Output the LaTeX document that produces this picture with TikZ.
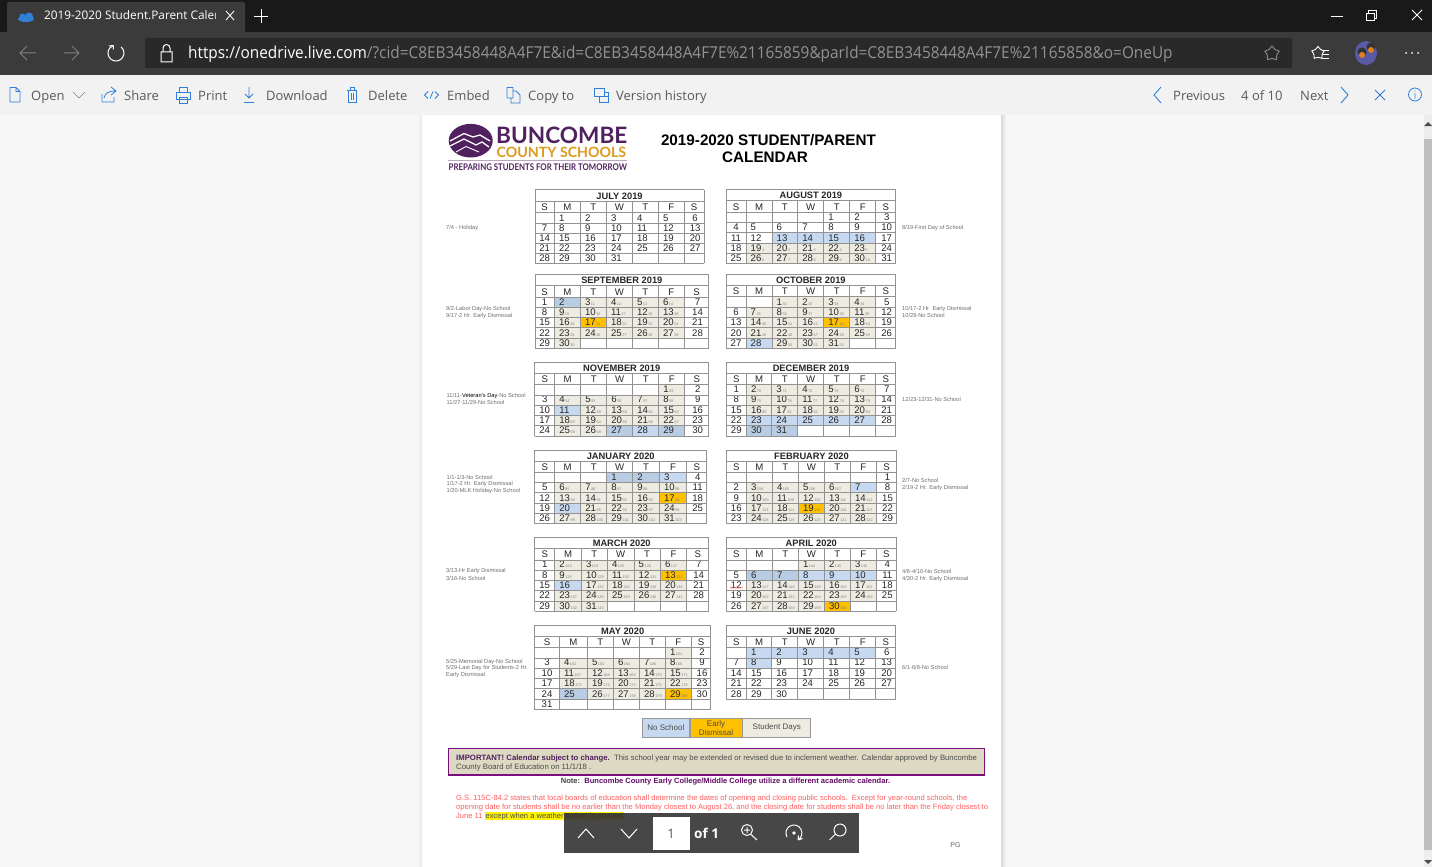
\documentclass[tikz,border=0pt]{standalone}
\usepackage{fontspec}
\usepackage{xcolor}
\usepackage{graphicx}
\setmainfont{Liberation Sans}
\newfontfamily\uifont{Open Sans}
\newfontfamily\logofont{Lato}
\usetikzlibrary{arrows,positioning,shapes,calc}
\definecolor{calw}{HTML}{FFFFFF}
\definecolor{cals}{HTML}{EEECE1}
\definecolor{cale}{HTML}{FFC000}
\definecolor{caln}{HTML}{C6D9F1}
\definecolor{cald}{HTML}{B8CCE4}
\definecolor{calgrid}{HTML}{929292}
\definecolor{uiblue}{HTML}{2F7FD6}
\definecolor{uitext}{HTML}{5A5A5A}
\definecolor{notegray}{HTML}{6E6E6E}
\definecolor{logopurple}{HTML}{50215E}
\definecolor{logoorange}{HTML}{DC9A1E}
\definecolor{boxpurple}{HTML}{7A0F7E}
\definecolor{boxfill}{HTML}{DDD9C3}
\definecolor{lawred}{HTML}{FF5F5F}
\newcommand{\fs}[1]{\fontsize{#1}{#1}\selectfont}
\newcounter{schoolday}

\newcommand{\calmonth}[6]{%
	\def\colx{{#3}}\def\rowy{{#4}}
	\pgfmathtruncatemacro{\lastrow}{dim(\rowy)-1}
	\pgfmathsetmacro{\ytop}{\rowy[0]}
	\pgfmathsetmacro{\yhead}{\rowy[1]}
	\pgfmathsetmacro{\ysub}{\rowy[2]}
	\pgfmathsetmacro{\ybot}{\rowy[\lastrow]}
	\pgfmathsetmacro{\xleft}{\colx[0]}
	\pgfmathsetmacro{\xright}{\colx[7]}
	\foreach \kind [count=\dayidx from 1] in {#6} {
		\pgfmathtruncatemacro{\slot}{\dayidx-1+#5}
		\pgfmathtruncatemacro{\cc}{mod(\slot,7)}
		\pgfmathtruncatemacro{\rr}{int(\slot/7)}
		\pgfmathtruncatemacro{\ccb}{\cc+1}
		\pgfmathtruncatemacro{\rra}{2+\rr}
		\pgfmathtruncatemacro{\rrb}{3+\rr}
		\pgfmathsetmacro{\xa}{\colx[\cc]}
		\pgfmathsetmacro{\xb}{\colx[\ccb]}
		\pgfmathsetmacro{\ya}{\rowy[\rra]}
		\pgfmathsetmacro{\yb}{\rowy[\rrb]}
		\fill[cal\kind] (\xa,\ya) rectangle (\xb,\yb);
		\def\daytag{}
		\if\kind s\stepcounter{schoolday}\edef\daytag{\arabic{schoolday}}\fi
		\if\kind e\stepcounter{schoolday}\edef\daytag{\arabic{schoolday}}\fi
		\ifnum\cc=0
			\node[daynum,anchor=base] (#1-\dayidx) at ({(\xa+\xb)/2},\yb-2.1) {\dayidx};
		\else\ifnum\cc=6
			\node[daynum,anchor=base] (#1-\dayidx) at ({(\xa+\xb)/2+1},\yb-2.1) {\dayidx};
		\else
			\node[daynum,anchor=base west] (#1-\dayidx) at (\xa+4.5,\yb-2.1) {\dayidx{\fs{3.8}\color{gray}\,\daytag}};
		\fi\fi
	}
	\foreach \yy in {#4} \draw[calline] (\xleft,\yy) -- (\xright,\yy);
	\foreach \xx in {#3} \draw[calline] (\xx,\yhead) -- (\xx,\ybot);
	\draw[calline] (\xleft,\ytop) -- (\xleft,\yhead) (\xright,\ytop) -- (\xright,\yhead);
	\node[monthtitle] (#1) at ({(\xleft+\xright)/2},\yhead-1.9) {#2};
	\foreach \lab [count=\i from 0] in {S,M,T,W,T,F,S} {
		\pgfmathtruncatemacro{\ib}{\i+1}
		\pgfmathsetmacro{\xa}{\colx[\i]}
		\pgfmathsetmacro{\xb}{\colx[\ib]}
		\node[monthtitle,font=\fs{9.6}] (#1-head\i) at ({(\xa+\xb)/2},\ysub-2.1) {\lab};
	}
}

\newcommand{\sidenote}[4]{\node[sidetext] (#1) at (#2,#3) {#4};}

\begin{document}
\begin{tikzpicture}[x=1pt,y=-1pt,
	daynum/.style={inner sep=0pt,font=\fs{9.6},text=black!85},
	monthtitle/.style={inner sep=0pt,anchor=base,font=\bfseries\fs{9.3},text=black!85},
	calline/.style={draw=calgrid,line width=.75pt},
	sidetext/.style={inner sep=0pt,anchor=west,yshift=-.7pt,font=\fs{5.7},text=notegray},
	legendbox/.style={draw=gray!80,line width=.7pt,inner sep=0pt,minimum height=19pt,align=center,font=\fs{8},text=black!70},
	lawtext/.style={inner sep=0pt,anchor=base west,font=\fs{7.57},text=lawred},
	uilabel/.style={inner sep=0pt,anchor=base west,font=\uifont\fs{13},text=uitext},
	icon/.style={draw=uiblue,line width=.8pt},
	barline/.style={draw=white,line width=1pt}]

	\useasboundingbox (0,0) rectangle (1432,867);

	% window
	\fill[black!90!white] (0,0) rectangle (1432,33);
	\fill[black!77] (0,32) rectangle (1432,75);
	\fill[black!77,rounded corners=2pt] (7,2) rectangle (245,33);
	\fill[black!84,rounded corners=2pt] (145,38) rectangle (1292,68);
	\fill[uiblue] (26,19) ellipse (8 and 3) (29,16.5) circle (4) (22.5,16.5) circle (3);
	\begin{scope}
		\clip (40,5) rectangle (215,30);
		\node[inner sep=0pt,anchor=base west,text=white,font=\uifont\fs{11.8}] (tabname) at (44,20) {2019-2020 Student.Parent Calenc};
	\end{scope}
	\draw[barline,line width=.9pt] (226,11) -- (234,20) (234,11) -- (226,20);
	\draw[barline,line width=.9pt] (261,9) -- (261,23) (254,16) -- (268,16);
	\draw[barline,line width=.9pt] (1331,16) -- (1343,16);
	\draw[barline,line width=.9pt] (1366,13) rectangle (1374,20) (1368,13) -- (1368,10.5) -- (1376,10.5) -- (1376,18) -- (1374,18);
	\draw[barline,line width=.9pt] (1412,10) -- (1422,20) (1422,10) -- (1412,20);
	\draw[gray,line width=1pt] (36,53) -- (20,53) (27,46) -- (20,53) -- (27,60);
	\draw[gray,line width=1pt] (64,53) -- (79,53) (72,46) -- (79,53) -- (72,60);
	\draw[barline] (121.1,46.9) arc (310:610:8);
	\draw[barline] (113.3,45.5) -- (113.3,49.5) (113.3,45.5) -- (109,46);
	\draw[barline] (161,52) rectangle (172,62) (163,52) -- (163,48) arc (180:360:3.5) -- (170,52);
	\node[inner sep=0pt,anchor=base west,font=\uifont\fs{16.4}] (url) at (188,59) {\scalebox{.937}[1]{\textcolor{white}{https://onedrive.live.com}\textcolor{gray!85}{/?cid=C8EB3458448A4F7E\&id=C8EB3458448A4F7E\%21165859\&parId=C8EB3458448A4F7E\%21165858\&o=OneUp}}};
	\node[star,star points=5,draw=gray!90,line width=.9pt,inner sep=0pt,minimum size=15pt] (fav) at (1272,53.5) {};
	\node[star,star points=5,draw=white,line width=.9pt,inner sep=0pt,minimum size=13pt] (favlist) at (1318,53) {};
	\draw[barline,line width=.8pt] (1322,50) -- (1329,50) (1322,54) -- (1329,54) (1322,58) -- (1329,58);
	\fill[gray!70!blue] (1366,53) ellipse (11 and 12);
	\fill[black!80] (1362,52) circle (4.5) (1371,47) circle (4.5);
	\fill[orange!50!brown] (1362,55) circle (3) (1371,50) circle (3);
	\foreach \dotx in {1406,1412,1418} \fill[white] (\dotx,53) circle (1);

	% toolbar
	\fill[black!5] (0,75) rectangle (1432,115);
	\fill[black!3] (0,115) rectangle (1424,867);
	\fill[black!7] (1424,115) rectangle (1432,867);
	\fill[black!25] (1424,139) rectangle (1432,850);
	\fill[black!70] (1428,122) -- (1432,126) -- (1424,126) -- cycle (1428,864) -- (1432,860) -- (1424,860) -- cycle;
	\node[uilabel] (open) at (31,100) {Open};
	\node[uilabel] (share) at (124,100) {Share};
	\node[uilabel] (print) at (198,100) {Print};
	\node[uilabel] (download) at (266,100) {Download};
	\node[uilabel] (delete) at (368,100) {Delete};
	\node[uilabel] (embed) at (447,100) {Embed};
	\node[uilabel] (copyto) at (528,100) {Copy to};
	\node[uilabel] (version) at (616,100) {Version history};
	\node[uilabel] (previous) at (1173,100) {Previous};
	\node[uilabel] (pagecount) at (1241,100) {4 of 10};
	\node[uilabel] (next) at (1300,100) {Next};
	\draw[gray,line width=.7pt] (73,92) -- (79,98) -- (85,92);
	\draw[icon] (10,87.5) -- (16,87.5) -- (20,91.5) -- (20,102) -- (10,102) -- cycle (16,87.5) -- (16,91.5) -- (20,91.5);
	\draw[icon] (102,94) -- (102,102) -- (114,102) -- (114,97) (104,98) .. controls (105,93) and (109,91) .. (115,91) (111,87) -- (116,91) -- (111,95);
	\draw[icon] (176,92) rectangle (190,99) (179,92) -- (179,87.5) -- (187,87.5) -- (187,92) (179,97) rectangle (187,103);
	\draw[icon] (249,87) -- (249,98) (245,94) -- (249,98) -- (253,94) (244,102.5) -- (254,102.5);
	\draw[icon] (347,90) -- (357,90) (350,90) -- (350,87.5) -- (354,87.5) -- (354,90) (348,90) rectangle (356,102.5) (351,93) -- (351,100) (353,93) -- (353,100);
	\draw[icon] (428,91.5) -- (424.5,95) -- (428,98.5) (430,98.5) -- (433,91.5) (435,91.5) -- (438.5,95) -- (435,98.5);
	\draw[icon] (507,87.5) -- (513,87.5) -- (513,98) -- (507,98) -- cycle (513,91) -- (516,91) -- (520,95) -- (520,103) -- (511,103) -- (511,98);
	\draw[icon] (594,88.5) rectangle (604,96) (599,96) rectangle (608,102) (604,92) -- (608,92) -- (608,96);
	\draw[icon,line width=.9pt] (1161,87) -- (1154,95) -- (1161,103);
	\draw[icon,line width=.9pt] (1341,87) -- (1348,95) -- (1341,103);
	\draw[icon,line width=.9pt] (1375,90) -- (1385,100) (1385,90) -- (1375,100);
	\draw[icon] (1415,94.5) circle (6.5) (1415,93) -- (1415,98.5) (1415,90.5) -- (1415,91.5);

	% page
	\shade[left color=black!15,right color=black!3] (1001,115) rectangle (1006,867);
	\shade[left color=black!3,right color=black!10] (418,115) rectangle (422,867);
	\fill[white] (422,115) rectangle (1001,867);

	% logo
	\fill[logopurple] (470.7,140.7) ellipse (22 and 16.8);
	\draw[white,line width=1.3pt] (450,141) -- (464,133.5) -- (473,137) -- (480,135) -- (490,141);
	\draw[white,line width=1.3pt] (450,146) -- (464,139) -- (476,145) -- (482,142) -- (489,147);
	\draw[white,line width=.9pt] (456,152) -- (466,146.5) -- (479,152);
	\node[inner sep=0pt,anchor=base west,text=logopurple,font=\logofont\bfseries\fs{22.6}] (buncombe) at (496,143.5) {BUNCOMBE};
	\node[inner sep=0pt,anchor=base west,text=logoorange,font=\logofont\bfseries\fs{14.2}] (county) at (496.5,157) {COUNTY SCHOOLS};
	\draw[logopurple!40,line width=.8pt] (448,160) -- (627,160);
	\node[inner sep=0pt,anchor=base west,text=logopurple,font=\logofont\bfseries\fs{9.2}] (motto) at (448.5,170) {\scalebox{.85}[1]{PREPARING STUDENTS FOR THEIR TOMORROW}};
	\node[inner sep=0pt,font=\bfseries\fs{15.25},text=black] (title) at (768.5,140) {2019-2020 STUDENT/PARENT};
	\node[inner sep=0pt,font=\bfseries\fs{15.25},text=black] (subtitle) at (765,157) {CALENDAR};

	% calendars
	\calmonth{july}{JULY 2019}{535,554.3,580.3,606.3,632.3,658.3,684.3,704}{189.7,201,212.3,223.3,233.3,243.3,253.3,263.3}{1}
		{w,w,w,w,w,w,w,w,w,w,w,w,w,w,w,w,w,w,w,w,w,w,w,w,w,w,w,w,w,w,w}
	\calmonth{august}{AUGUST 2019}{726,746,772,797.7,823.7,849.7,875.7,895.7}{189.5,200.7,212.3,222.3,232.7,243.3,253.3,263.3}{4}
		{w,w,w,w,w,w,w,w,w,w,w,w,n,n,n,n,w,w,s,s,s,s,s,w,w,s,s,s,s,s,w}
	\calmonth{september}{SEPTEMBER 2019}{535,554.3,580.3,606.3,632.3,658.3,684.3,708.7}{274.3,285.7,297.3,307.7,317.7,327.7,338.3,348.3}{0}
		{w,d,s,s,s,s,w,w,s,s,s,s,s,w,w,s,e,s,s,s,w,w,s,s,s,s,s,w,w,s}
	\calmonth{october}{OCTOBER 2019}{726,746,772,797.7,823.7,849.7,875.7,895.7}{274.3,285.3,296.7,307.3,317.7,327.7,338.3,348.3}{2}
		{s,s,s,s,w,w,s,s,s,s,s,w,w,s,s,s,e,s,w,w,s,s,s,s,s,w,w,n,s,s,s}
	\calmonth{november}{NOVEMBER 2019}{534.7,554.7,580.7,606.7,632.7,658.7,684.7,708.7}{362.3,373,384.3,395,405,415.7,425.7,436}{5}
		{s,w,w,s,s,s,s,s,w,w,n,s,s,s,s,w,w,s,s,s,s,s,w,w,s,s,d,n,d,w}
	\calmonth{december}{DECEMBER 2019}{726.3,746.3,771.7,797.7,823.7,849.7,875.7,895.7}{362.3,373,384.3,395,405,415.7,425.7,436}{0}
		{w,s,s,s,s,s,w,w,s,s,s,s,s,w,w,s,s,s,s,s,w,w,n,n,n,n,n,w,w,d,d}
	\calmonth{january}{JANUARY 2020}{534.7,554.7,580.7,606.7,632.7,659.3,686.7,706.7}{450,461,472.3,482.7,492.7,503.3,513.7,523.7}{3}
		{d,d,n,w,w,s,s,s,s,s,w,w,s,s,s,s,e,w,w,n,s,s,s,s,w,w,s,s,s,s,s}
	\calmonth{february}{FEBRUARY 2020}{726.3,746.3,772.3,798.3,824.3,850.3,876.3,896.7}{450,461,472.3,482.7,492.7,503.3,513.7,523.7}{6}
		{w,w,s,s,s,s,n,w,w,s,s,s,s,s,w,w,s,s,e,s,s,w,w,s,s,s,s,s,w}
	\calmonth{march}{MARCH 2020}{534.7,554.7,581.3,607.3,634,660.3,686.7,708.7}{537.3,548.3,560,570,580.7,590.7,601,611.3}{0}
		{w,s,s,s,s,s,w,w,s,s,s,s,e,w,w,n,s,s,s,s,w,w,s,s,s,s,s,w,w,s,s}
	\calmonth{april}{APRIL 2020}{726.3,746.3,772.3,798.3,824.3,850.3,876.3,896.3}{537.3,548.3,560,570,580.7,590.7,601,611.3}{3}
		{s,s,s,w,w,d,d,n,n,n,w,w,s,s,s,s,s,w,w,s,s,s,s,s,w,w,s,s,s,e}
	\calmonth{may}{MAY 2020}{534.7,559.3,587.3,613.3,639.3,665.3,691.3,710.7}{625,636,647.3,658,668,678.7,688.7,699.3,709.7}{5}
		{s,w,w,s,s,s,s,s,w,w,s,s,s,s,s,w,w,s,s,s,s,s,w,w,d,s,s,s,e,w,w}
	\calmonth{june}{JUNE 2020}{726.3,746.3,771.7,797.7,823.7,849.7,875.7,895.7}{625,636,647.3,658,668,678.7,688.7,699.3}{1}
		{n,n,n,n,n,w,w,n,w,w,w,w,w,w,w,w,w,w,w,w,w,w,w,w,w,w,w,w,w,w}
	\node[inner sep=0pt,text=red!45,font=\fs{4.6}] (easter) at (736.7,588) {Easter};

	% notes beside the months
	\sidenote{n-july}{446}{227}{7/4 - Holiday}
	\sidenote{n-aug}{902}{227}{8/19-First Day of School}
	\sidenote{n-sepa}{446}{308}{9/2-Labor Day-No School}
	\sidenote{n-sepb}{446}{315}{9/17-2 Hr. Early Dismissal}
	\sidenote{n-octa}{902}{308}{10/17-2 Hr. Early Dismissal}
	\sidenote{n-octb}{902}{315}{10/28-No School}
	\sidenote{n-nova}{446.5}{395.7}{11/11-\textcolor{black}{Veteran's Day}-No School}
	\sidenote{n-novb}{446.5}{402}{11/27-11/29-No School}
	\sidenote{n-dec}{902}{399}{12/23-12/31-No School}
	\sidenote{n-jana}{446.5}{477}{1/1-1/3-No School}
	\sidenote{n-janb}{446.5}{483.7}{1/17-2 Hr. Early Dismissal}
	\sidenote{n-janc}{446.5}{490}{1/20-MLK Holiday-No School}
	\sidenote{n-feba}{902}{479.7}{2/7-No School}
	\sidenote{n-febb}{902}{487}{2/19-2 Hr. Early Dismissal}
	\sidenote{n-mara}{446}{570.7}{3/13-Hr Early Dismissal}
	\sidenote{n-marb}{446}{577.7}{3/16-No School}
	\sidenote{n-apra}{902}{570.7}{4/6-4/10-No School}
	\sidenote{n-aprb}{902}{578}{4/30-2 Hr. Early Dismissal}
	\sidenote{n-maya}{446}{661}{5/25-Memorial Day-No School}
	\sidenote{n-mayb}{446}{667}{5/29-Last Day for Students-2 Hr.}
	\sidenote{n-mayc}{446}{674}{Early Dismissal}
	\sidenote{n-jun}{902}{666.7}{6/1-6/8-No School}

	% key
	\node[legendbox,fill=caln,minimum width=47pt,anchor=north west] (noschool) at (642,718) {No School};
	\node[legendbox,fill=cale,minimum width=52pt] (early) [right = 0pt of noschool] {Early\\[1pt]Dismissal};
	\node[legendbox,fill=cals,minimum width=68pt] (student) [right = 0pt of early] {Student Days};

	% remarks
	\fill[boxfill] (448.5,748.5) rectangle (984.5,775);
	\draw[boxpurple,line width=1.5pt] (448.5,748.5) rectangle (984.5,775);
	\node[inner sep=0pt,anchor=base west,font=\fs{7.75},text=black!70] (importanta) at (456,760) {\textcolor{logopurple}{\bfseries IMPORTANT! Calendar subject to change.}\ \ This school year may be extended or revised due to inclement weather. Calendar approved by Buncombe};
	\node[inner sep=0pt,anchor=base west,font=\fs{7.75},text=black!70] (importantb) at (456,769) {County Board of Education on 11/1/18 .};
	\node[inner sep=0pt,anchor=base,font=\bfseries\fs{7.55},text=boxpurple!80!black] (note) at (725.5,783) {\textcolor{black!75}{Note:}\ \ Buncombe County Early College/Middle College utilize a different academic calendar.};
	\node[lawtext] (lawa) at (456,800.5) {G.S. 115C-84.2 states that local boards of education shall determine the dates of opening and closing public schools.\ \ Except for year-round schools, the};
	\node[lawtext] (lawb) at (456,809) {opening date for students shall be no earlier than the Monday closest to August 26, and the closing date for students shall be no later than the Friday closest to};
	\node[lawtext] (lawc) at (456,818) {June 11};
	\fill[yellow] (485,811.5) rectangle (624,819.5);
	\node[lawtext,text=black!70] (lawd) at (485.5,818) {except when a weather waiver is granted.};
	\node[inner sep=0pt,anchor=base,font=\fs{7},text=black!60] (pg) at (955.5,847) {PG};

	% page controls
	\fill[black!80,opacity=.9] (564,813) rectangle (859,853);
	\fill[white] (653,817) rectangle (690,850);
	\node[inner sep=0pt,font=\uifont\fs{13},text=black!65] (pagebox) at (671,834) {1};
	\node[inner sep=0pt,anchor=west,font=\uifont\bfseries\fs{13.5},text=white] (pageof) at (694,833) {of 1};
	\draw[barline] (578,838) -- (586,829) -- (594,838);
	\draw[barline] (621,829) -- (629,838) -- (637,829);
	\draw[barline] (747,830) circle (5.5) (751,834.5) -- (757,840) (744,830) -- (750,830) (747,827) -- (747,833);
	\draw[barline] (787,837) arc (150:420:8) (794,833) circle (1.2) (798,840) -- (798.5,835.5) (798,840) -- (802.5,838.5);
	\draw[barline] (840,830) circle (6) (835.5,834) -- (829.5,840);
\end{tikzpicture}
\end{document}
